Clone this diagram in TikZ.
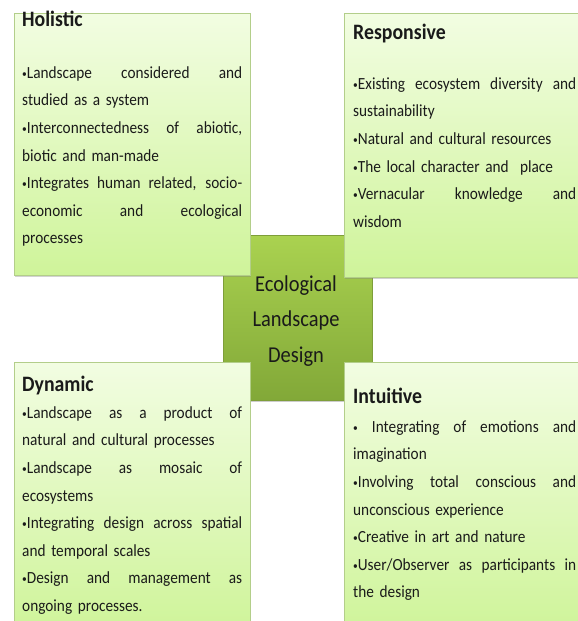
\documentclass[tikz,border=0pt]{standalone}
\usepackage{fontspec}
\setmainfont{Carlito}[FakeStretch=0.9]
\usetikzlibrary{shadows}
\definecolor{cornertop}{HTML}{F2FDE2}
\definecolor{cornerbot}{HTML}{CFF49A}
\definecolor{cornerline}{HTML}{B3CE8A}
\definecolor{centertop}{HTML}{AAD250}
\definecolor{centerbot}{HTML}{82A838}
\definecolor{centerline}{HTML}{7E9E3A}
\definecolor{txt}{HTML}{1A1A1A}
\newcommand{\jline}[2][220pt]{{\spaceskip=0pt\xspaceskip=0pt\makebox[#1][s]{#2}}}
\newcommand{\firstl}{\rule{0pt}{14pt}}
\newcommand{\bul}{\raisebox{1pt}{\fontsize{10.5}{10}\selectfont •}}
\tikzset{
  cornerbox/.style={draw=cornerline, line width=0.6pt, top color=cornertop, bottom color=cornerbot,
    drop shadow={shadow xshift=1.2pt, shadow yshift=-1.8pt, opacity=0.35}, inner sep=0pt},
  centerbox/.style={draw=centerline, line width=0.6pt, top color=centertop, bottom color=centerbot,
    drop shadow={shadow xshift=1.2pt, shadow yshift=-2pt, opacity=0.4}, inner sep=0pt,
    minimum width=149pt, minimum height=165pt},
  titletext/.style={anchor=base west, inner sep=0pt, text=txt, font=\fontsize{22}{24}\selectfont\bfseries},
  bodytext/.style={anchor=north west, inner sep=0pt, text=txt, align=left,
    font=\fontsize{17}{27.6}\selectfont},
  centertext/.style={anchor=north, inner sep=0pt, text=txt, align=center,
    font=\fontsize{22.7}{35.5}\selectfont}
}
\begin{document}
\begin{tikzpicture}[x=1pt,y=-1pt]
\useasboundingbox (0,0) rectangle (578,621);
\clip (0,0) rectangle (578,621);
\fill[white] (0,0) rectangle (578,621);
% central box
\node[centerbox] (center) at (297.5,317.5) {};
% corner boxes
\node[cornerbox, minimum width=236pt, minimum height=262pt] (hol) at (132,144) {};
\node[cornerbox, minimum width=250pt, minimum height=264pt] (res) at (469,145) {};
\node[cornerbox, minimum width=236pt, minimum height=268pt] (dyn) at (132,496) {};
\node[cornerbox, minimum width=250pt, minimum height=268pt] (int) at (469,496) {};
% center text
\node[centertext] (ctext) at (296,275) {\rule{0pt}{16pt}Ecological\\Landscape\\Design};
% Holistic
\node[titletext] (holt) at (22,27) {Holistic};
\node[bodytext, text width=220pt] (holb) at (22,64) {\firstl\jline{\bul Landscape considered and}\\
studied as a system\\
\jline{\bul Interconnectedness of abiotic,}\\
biotic and man-made\\
\jline{\bul Integrates human related, socio-}\\
\jline{economic and ecological}\\
processes};
% Responsive
\node[titletext] (rest) at (353,39) {Responsive};
\node[bodytext, text width=223pt] (resb) at (353,75) {\firstl\jline[223pt]{\bul Existing ecosystem diversity and}\\
sustainability\\
\bul Natural and cultural resources\\
\bul The local character and\ \ place\\
\jline[223pt]{\bul Vernacular knowledge and}\\
wisdom};
% Dynamic
\node[titletext] (dynt) at (22,391) {Dynamic};
\node[bodytext, text width=220pt] (dynb) at (22,404) {\firstl\jline{\bul Landscape as a product of}\\
natural and cultural processes\\
\jline{\bul Landscape as mosaic of}\\
ecosystems\\
\jline{\bul Integrating design across spatial}\\
and temporal scales\\
\jline{\bul Design and management as}\\
ongoing processes.};
% Intuitive
\node[titletext] (intt) at (353,403) {Intuitive};
\node[bodytext, text width=223pt] (intb) at (353,418) {\firstl\jline[223pt]{\bul{} Integrating of emotions and}\\
imagination\\
\jline[223pt]{\bul Involving total conscious and}\\
unconscious experience\\
\bul Creative in art and nature\\
\jline[223pt]{\bul User/Observer as participants in}\\
the design};
\end{tikzpicture}
\end{document}
